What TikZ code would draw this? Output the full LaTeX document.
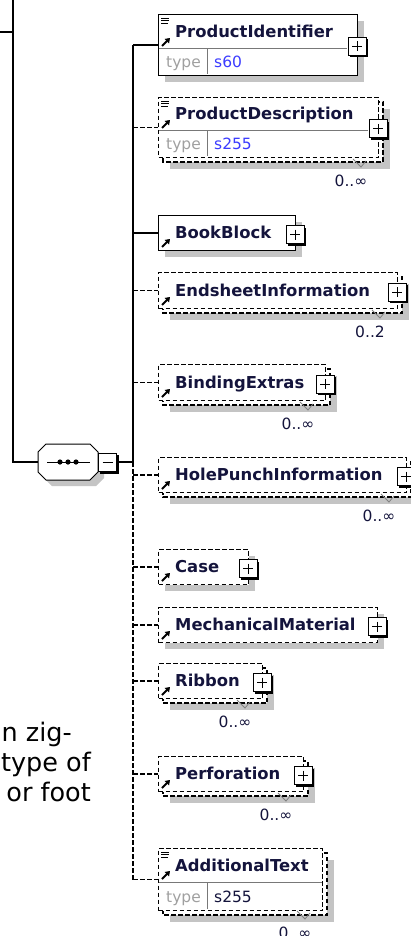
\documentclass[tikz,border=0pt]{standalone}
\usepackage{fontspec}
\newfontfamily\dvs{DejaVu Sans}
\usetikzlibrary{arrows.meta,calc}
\definecolor{shd}{RGB}{196,196,196}
\definecolor{tgray}{RGB}{160,160,160}
\definecolor{tblue}{RGB}{60,60,255}
\definecolor{navy}{RGB}{20,20,60}
\definecolor{divc}{RGB}{120,120,120}
\newif\ifxplus \xplustrue
% #1 id, #2 top, #3 bottom, #4 right, #5 kind (0 solid,1 optional,2 multiple), #6 label-row bottom, #7 name
\newcommand\xelem[7]{%
  \ifcase#5\relax
    \tikzset{curline/.style={solid}}%
  \else
    \tikzset{curline/.style={optline}}%
  \fi
  \ifnum#5=2\relax
    \fill[shd] (170,#2+12) rectangle (#4+12,#3+12);
    \draw[boxline,curline,fill=white] (163,#2+5) rectangle (#4+5,#3+5);
  \else
    \fill[shd] (165,#2+7) rectangle (#4+7,#3+7);
  \fi
  \node[ebox,curline,minimum width={(#4-158)*1pt},minimum height={(#3-#2)*1pt}] (#1) at (158,#2) {};
  \draw[conn,curline] (#1.west -| spine) -- (#1.west);
  \ifxplus
  \fill[black] (#4-7,{(#2+#3)/2-5}) rectangle (#4+11,{(#2+#3)/2+13});
  \node[plusbox] (#1p) at (#4,{(#2+#3)/2+2}) {};
  \draw[line width=1pt] ($(#1p.center)+(-5,0)$) -- ($(#1p.center)+(5,0)$)
        ($(#1p.center)+(0,-5)$) -- ($(#1p.center)+(0,5)$);
  \fi
  \draw[refarrow] (162,#6-3) -- (170,#6-11);
  \node[ename] (#1t) at (175,{(#2+#6)/2+6}) {#7};
}
% #1 divider y, #2 bottom, #3 right, #4 value, #5 colour
\newcommand\xtype[5]{%
  \draw[divl] (158.6,#1) -- (#3-10,#1);
  \draw[divl] (207,#1) -- (207,#2-0.6);
  \node[tlab,text=tgray] at (166,{(#1+#2)/2+6}) {type};
  \node[tlab,text=#5] at (214,{(#1+#2)/2+6}) {#4};
}
% #1 id, #2 right, #3 bottom, #4 text
\newcommand\xcard[4]{%
  \draw[gray,line width=0.8pt] (#2-25,#3+2) -- (#2-17,#3+10) -- (#2-12,#3+4);
  \node[cardl] (#1c) at (#2-27,#3+29) {#4};
}
\newcommand\xdoc[1]{%
  \draw[line width=0.8pt] (161,#1+4) -- (169,#1+4) (161,#1+6.7) -- (169,#1+6.7) (161,#1+9.4) -- (168,#1+9.4);
}
\begin{document}
\begin{tikzpicture}[x=1pt,y=-1pt,
  boxline/.style={line width=1.2pt},
  optline/.style={dash pattern=on 4.5pt off 2.5pt},
  ebox/.style={rectangle,draw=black,line width=1.2pt,fill=white,inner sep=0pt,anchor=north west},
  conn/.style={line width=1.3pt},
  plusbox/.style={rectangle,draw=black,line width=1pt,fill=white,minimum size=18pt,inner sep=0pt},
  ename/.style={font=\dvs\bfseries\fontsize{16.4}{19}\selectfont,anchor=base west,inner sep=0pt,text=navy},
  tlab/.style={font=\dvs\fontsize{15.5}{18}\selectfont,anchor=base west,inner sep=0pt},
  cardl/.style={font=\dvs\fontsize{15.5}{18}\selectfont,anchor=base,inner sep=0pt,text=navy},
  refarrow/.style={line width=2pt,-{Triangle[length=4.5pt,width=6pt]}},
  divl/.style={draw=divc,line width=1pt},
  lefttxt/.style={font=\dvs\fontsize{25.5}{30}\selectfont,anchor=base east,inner sep=0pt},
]
\useasboundingbox (0,0) rectangle (411,936);
\clip (0,0) rectangle (411,936);
\fill[white] (0,0) rectangle (411,936);
\coordinate (spine) at (133,0);
\coordinate (lsp) at (13,0);
\coordinate (ltop) at (0,32);

% sequence compositor
\fill[shd] (52,450) -- (96,450) -- (104,458) -- (104,478) -- (96,486) -- (52,486) -- (44,478) -- (44,458) -- cycle;
\draw[line width=1pt,fill=white] (46,444) -- (90,444) -- (98,452) -- (98,472) -- (90,480) -- (46,480) -- (38,472) -- (38,452) -- cycle;
\node[rectangle,minimum width=60pt,minimum height=36pt,inner sep=0pt] (seq) at (68,462) {};
\draw[line width=1pt] ($(seq.center)+(-21,0)$) -- ($(seq.center)+(22,0)$);
\fill ($(seq.center)+(-8,0)$) circle (2.6) (seq.center) circle (2.6) ($(seq.center)+(8,0)$) circle (2.6);
\fill[black] (100,455) rectangle (119,474);
\node[plusbox] (seqm) at (107.5,462) {};
\draw[line width=1pt] ($(seqm.center)+(-5,0)$) -- ($(seqm.center)+(5,0)$);

% left bracket
\draw[conn] (ltop) -- (ltop -| lsp);
\draw[conn] (lsp) -- (seq.west -| lsp) -- (seq.west);
\draw[conn] (seqm.east) -- (seqm.east -| spine);

% elements
\xelem{pi}{14}{75}{357}{0}{49}{ProductIdentifier}
\xdoc{14}
\xtype{49}{75}{357}{s60}{tblue}

\xelem{pd}{97}{157}{378}{2}{131}{ProductDescription}
\xdoc{97}
\xtype{131}{157}{378}{s255}{tblue}
\xcard{pd}{378}{157}{0..∞}

\xelem{bb}{215}{250}{295}{0}{250}{BookBlock}

\xelem{es}{272}{308}{397}{2}{308}{EndsheetInformation}
\xcard{es}{397}{308}{0..2}

\xelem{be}{364}{400}{325}{2}{400}{BindingExtras}
\xcard{be}{325}{400}{0..∞}

\xelem{hp}{457}{492}{406}{2}{492}{HolePunchInformation}
\xcard{hp}{406}{492}{0..∞}

\xelem{ca}{549}{584}{248}{1}{584}{Case}

\xelem{mm}{607}{642}{377}{1}{642}{MechanicalMaterial}

\xelem{ri}{663}{698}{262}{2}{698}{Ribbon}
\xcard{ri}{262}{698}{0..∞}

\xelem{pf}{756}{791}{303}{2}{791}{Perforation}
\xcard{pf}{303}{791}{0..∞}

\xplusfalse
\xelem{at}{848}{910}{322}{2}{882}{AdditionalText}
\xdoc{848}
\xtype{882}{910}{332}{s255}{navy}
\xcard{at}{322}{909}{0..∞}

% spine
\draw[conn] (pi.west -| spine) -- (seqm.east -| spine);
\draw[conn,optline] (seqm.east -| spine) -- (at.west -| spine);

% cut-off text at left
\node[lefttxt] (lt1) at (72,741) {n zig-};
\node[lefttxt] (lt2) at (91,771) {type of};
\node[lefttxt] (lt3) at (91,801) {or foot};
\end{tikzpicture}
\end{document}
